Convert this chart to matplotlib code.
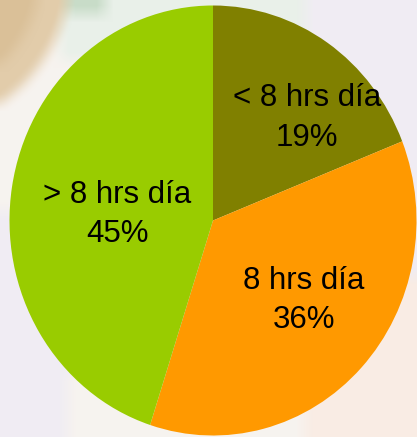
import numpy as np
import matplotlib
import matplotlib.pyplot as plt

matplotlib.use('Agg')
plt.rcParams['font.family'] = ['Liberation Sans', 'DejaVu Sans']

# datos del gráfico
labels = ['< 8 hrs día', '8 hrs día', '> 8 hrs día']
shares = [19, 36, 45]
colors = ['#808000', '#FF9900', '#99CC00']

# estilo de las etiquetas (distancia radial y ajuste de ángulo)
label_r = [0.665, 0.58, 0.47]
label_shift = [-10.0, 3.5, 5.5]

W, H = 417, 437


def box_blur(a, k):
    kern = np.ones(k) / k
    pad = k // 2
    out = np.pad(a, ((pad, pad), (pad, pad), (0, 0)), mode='edge')
    out = np.apply_along_axis(lambda v: np.convolve(v, kern, mode='valid'), 0, out)
    out = np.apply_along_axis(lambda v: np.convolve(v, kern, mode='valid'), 1, out)
    return out


def background():
    # fondo tipo foto desenfocada de la diapositiva
    yy, xx = np.mgrid[0:H, 0:W]
    img = np.empty((H, W, 3))
    img[:] = np.array([240, 237, 243]) / 255
    offwhite = np.array([247, 243, 239]) / 255
    img[(yy < 210) & (xx < 305)] = offwhite
    img[(yy < 60) & (xx > 60) & (xx < 305)] = np.array([233, 240, 233]) / 255
    img[(yy > 372) & (xx > 67) & (xx < 305)] = offwhite
    img[(yy > 275) & (xx >= 305)] = np.array([249, 236, 228]) / 255
    blob = np.hypot(xx + 90, yy + 30) < 160
    img[blob] = np.array([218, 192, 152]) / 255
    img[blob & (np.hypot(xx + 90, yy + 30) > 130)] = np.array([226, 204, 170]) / 255
    img[(yy < 14) & (xx > 66) & (xx < 105)] = np.array([200, 220, 200]) / 255
    return np.clip(box_blur(img, 17), 0, 1)


fig = plt.figure(figsize=(W / 100, H / 100), dpi=100)

bg = fig.add_axes([0, 0, 1, 1])
bg.imshow(background(), aspect='auto', interpolation='bilinear')
bg.axis('off')

ax = fig.add_axes([0, 0, 1, 1])
ax.patch.set_alpha(0)
wedges, _ = ax.pie(shares, colors=colors, startangle=90, counterclock=False,
                   wedgeprops=dict(linewidth=0))

# el gráfico original está algo achatado en horizontal
rx, ry = 203.5, 215.0
cx, cy = 213.0, 220.5
ax.set_aspect('auto')
ax.set_xlim(-cx / rx, (W - cx) / rx)
ax.set_ylim(-(H - cy) / ry, cy / ry)

for w, lab, val, r, s in zip(wedges, labels, shares, label_r, label_shift):
    ang = np.deg2rad((w.theta1 + w.theta2) / 2 + s)
    ax.text(r * np.cos(ang), r * np.sin(ang), f'{lab}\n{val}%',
            ha='center', va='center', fontsize=22.5, linespacing=1.4, color='black')

fig.savefig('out.png', dpi=100)
